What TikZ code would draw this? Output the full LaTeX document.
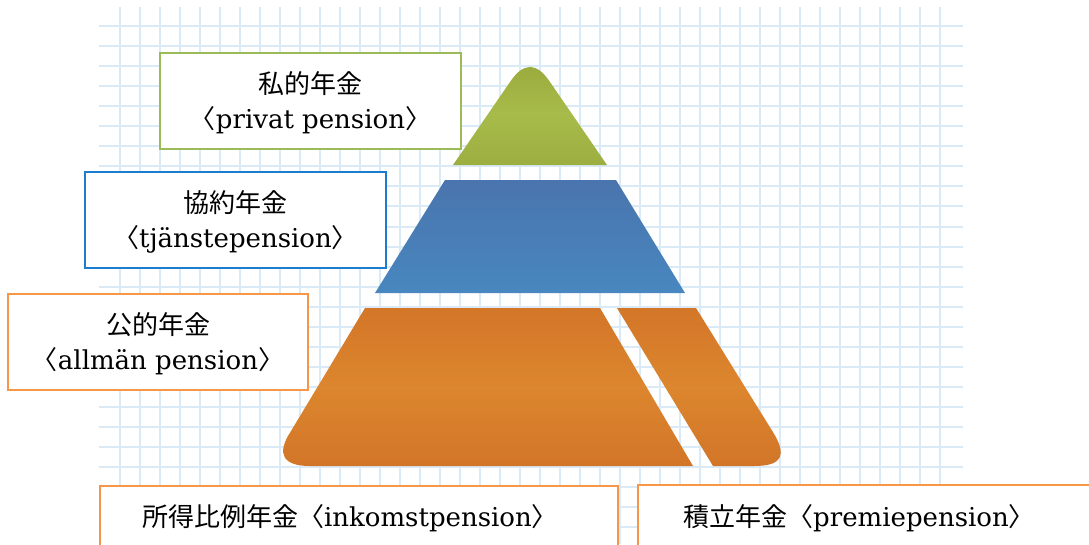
\documentclass[tikz,border=0pt]{standalone}
\usepackage{fontspec}
\setmainfont{DejaVu Serif}
\newfontfamily\cjk{Noto Sans CJK JP}
\newcommand{\jp}[1]{{\cjk #1}}
\newcommand{\twolines}[2]{\raisebox{-3pt}[\height][\depth]{\begin{tabular}{@{}c@{}}#1\\#2\end{tabular}}}
\definecolor{gridc}{RGB}{218,234,247}
\definecolor{greenb}{RGB}{155,187,89}
\definecolor{blueb}{RGB}{30,124,206}
\definecolor{orangeb}{RGB}{247,150,70}
\definecolor{gtop}{RGB}{154,170,60}
\definecolor{gmid}{RGB}{167,187,74}
\definecolor{gbot}{RGB}{156,174,64}
\definecolor{btop}{RGB}{74,116,173}
\definecolor{bbot}{RGB}{72,135,191}
\definecolor{otop}{RGB}{211,118,40}
\definecolor{omid}{RGB}{220,134,46}
\definecolor{obot}{RGB}{210,117,40}
\tikzset{
  gridline/.style={draw=gridc, line width=2pt},
  lbox/.style={fill=white, line width=1.5pt, inner sep=0pt, align=center,
    font=\fontsize{26pt}{35pt}\selectfont},
  ltext/.style={inner sep=0pt, font=\fontsize{26pt}{35pt}\selectfont},
  tierg/.style={top color=gtop, bottom color=gbot, middle color=gmid},
  tierb/.style={top color=btop, bottom color=bbot},
  tiero/.style={top color=otop, bottom color=obot, middle color=omid}
}
\begin{document}
\begin{tikzpicture}[x=1pt,y=-1pt]
\useasboundingbox (0,0) rectangle (1089,544);
\clip (0,0) rectangle (1089,544);
\fill[white] (0,0) rectangle (1089,544);
% grid
\foreach \i in {0,...,41} \draw[gridline] ({120+20*\i},7) -- ({120+20*\i},544);
\foreach \j in {0,...,25} \draw[gridline] (99,{26+20.05*\j}) -- (963,{26+20.05*\j});
% pyramid tiers
\shade[tierg] (453,165) -- (510.7,81) .. controls (523.6,62.3) and (536.4,62.3) .. (549.3,81) -- (607,165) -- cycle;
\shade[tierb] (445,180) -- (616,180) -- (685,293) -- (375,293) -- cycle;
\shade[tiero] (365,308) -- (600,308) -- (693,466) -- (310,466) .. controls (283,466) and (276,454) .. (290.6,431.7) -- cycle;
\shade[tiero] (617,308) -- (696,308) -- (772.9,432) .. controls (787.6,455.7) and (782,466) .. (754,466) -- (713,466) -- cycle;
% labels
\node[lbox, draw=greenb, minimum width=301pt, minimum height=96pt] (privat) at (310.5,101)
  {\twolines{\jp{私的年金}}{\jp{〈}privat pension\jp{〉}}};
\node[lbox, draw=blueb, minimum width=301pt, minimum height=96pt] (tjanst) at (235.5,220)
  {\twolines{\jp{協約年金}}{\jp{〈}tjänstepension\jp{〉}}};
\node[lbox, draw=orangeb, minimum width=300pt, minimum height=96pt] (allman) at (158,342)
  {\twolines{\jp{公的年金}}{\jp{〈}allmän pension\jp{〉}}};
\node[lbox, draw=orangeb, minimum width=518pt, minimum height=80pt, anchor=north west] (inkbox) at (99,485) {};
\node[ltext] (ink) at (350,518) {\jp{所得比例年金〈}inkomstpension\jp{〉}};
\node[lbox, draw=orangeb, minimum width=480pt, minimum height=80pt, anchor=north west] (prembox) at (637,484) {};
\node[ltext] (prem) at (859,518) {\jp{積立年金〈}premiepension\jp{〉}};
\end{tikzpicture}
\end{document}
